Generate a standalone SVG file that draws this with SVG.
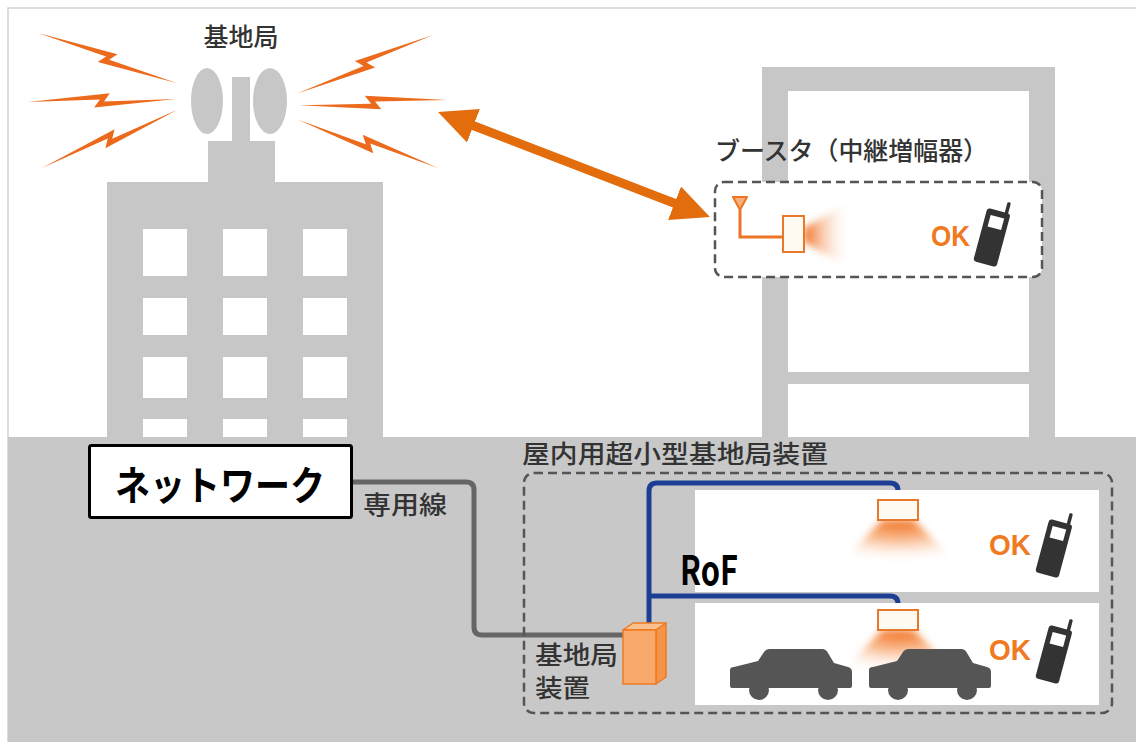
<svg xmlns="http://www.w3.org/2000/svg" xmlns:xlink="http://www.w3.org/1999/xlink" width="1136" height="742" viewBox="0 0 1136 742">
  <style>
    .bldg { fill: #c7c7c7; }
    .win { fill: #ffffff; }
    .label { font-family: "Noto Sans CJK JP", "Noto Sans", sans-serif; font-weight: 500; fill: #333333; font-size: 25px; }
    .ok { font-family: "Liberation Sans", "Noto Sans", sans-serif; font-weight: bold; fill: #f07a22; font-size: 30px; }
    .dash { fill: none; stroke: #555555; stroke-width: 2.5; stroke-dasharray: 9 5; }
    .rof { fill: none; stroke: #1c3f94; stroke-width: 5; stroke-linejoin: round; }
    .emitter { fill: #fffaf2; stroke: #e8782a; stroke-width: 2; }
  </style>
  <defs>
    <!-- zig-zag radio bolt, drawn from its outer tip along +x -->
    <path id="bolt" d="M0,0 L82,-7 L76,1 L148,0 L66,7 L72,-1 Z" fill="#ec6a1c"/>
    <marker id="head" viewBox="0 0 38 36" markerWidth="38" markerHeight="36" refX="18" refY="18" orient="auto-start-reverse" markerUnits="userSpaceOnUse">
      <path d="M0,0 L38,18 L0,36 Z" fill="#e36c0c"/>
    </marker>
    <g id="phone">
      <rect x="6" y="-38" width="3.5" height="13" rx="1.5" fill="#333333"/>
      <rect x="-12" y="-27" width="24" height="55" rx="3" fill="#333333"/>
      <rect x="-7" y="-21" width="14" height="12" fill="#ffffff"/>
    </g>
    <g id="car" fill="#555555">
      <path d="M0,22 Q0,19 4,19 L28,13 L34,4 Q36,1 40,1 L92,1 Q96,1 98,5 L104,15 L118,19 Q122,20 122,24 L122,38 Q122,40 120,40 L2,40 Q0,40 0,38 Z"/>
      <circle cx="29" cy="42" r="10"/>
      <circle cx="98" cy="42" r="10"/>
    </g>
    <radialGradient id="beamDown" cx="0.5" cy="0" r="0.9" fx="0.5" fy="0">
      <stop offset="0" stop-color="#f06a18" stop-opacity="1"/>
      <stop offset="0.45" stop-color="#f58a40" stop-opacity="0.6"/>
      <stop offset="1" stop-color="#ffffff" stop-opacity="0"/>
    </radialGradient>
    <linearGradient id="beamSide" x1="0" y1="0" x2="1" y2="0">
      <stop offset="0" stop-color="#f06a18" stop-opacity="1"/>
      <stop offset="1" stop-color="#ffffff" stop-opacity="0"/>
    </linearGradient>
    <filter id="soft" x="-20%" y="-20%" width="140%" height="140%">
      <feGaussianBlur stdDeviation="3.5"/>
    </filter>
  </defs>

  <!-- page -->
  <rect x="0" y="0" width="1136" height="742" fill="#ffffff"/>
  <path d="M8,742 V8 H1136" fill="none" stroke="#d2d2d2" stroke-width="1.5"/>

  <!-- office building with the macro base station -->
  <g id="office-building">
    <rect class="bldg" x="107" y="182" width="276" height="256"/>
    <rect class="bldg" x="208" y="141" width="67" height="42"/>
    <rect class="bldg" x="232" y="77" width="18" height="65"/>
    <ellipse class="bldg" cx="207" cy="101" rx="16" ry="33"/>
    <ellipse class="bldg" cx="270" cy="101" rx="17" ry="33"/>
    <g class="win">
      <rect x="143" y="229" width="44" height="47"/>
      <rect x="223" y="229" width="44" height="47"/>
      <rect x="303" y="229" width="44" height="47"/>
      <rect x="143" y="298" width="44" height="37"/>
      <rect x="223" y="298" width="44" height="37"/>
      <rect x="303" y="298" width="44" height="37"/>
      <rect x="143" y="357" width="44" height="41"/>
      <rect x="223" y="357" width="44" height="41"/>
      <rect x="303" y="357" width="44" height="41"/>
      <rect x="143" y="419" width="44" height="20"/>
      <rect x="223" y="419" width="44" height="20"/>
      <rect x="303" y="419" width="44" height="20"/>
    </g>
  </g>

  <!-- radio waves -->
  <g id="base-station-waves">
    <use href="#bolt" transform="translate(38,33) rotate(19.8)"/>
    <use href="#bolt" transform="translate(28,102) rotate(-1.2)"/>
    <use href="#bolt" transform="translate(42,168) rotate(-23.3)"/>
    <use href="#bolt" transform="translate(433,35) rotate(156.7) scale(1,-1)"/>
    <use href="#bolt" transform="translate(447,100) rotate(178) scale(1,-1)"/>
    <use href="#bolt" transform="translate(438,168) rotate(199) scale(1,-1)"/>
  </g>
  <g id="base-station-label">
    <text class="label" x="241" y="46" text-anchor="middle" font-size="24">基地局</text>
  </g>

  <!-- neighbouring building -->
  <g id="tower-building">
    <rect class="bldg" x="762" y="67" width="293" height="371"/>
    <rect class="win" x="788" y="91" width="241" height="281"/>
    <rect class="win" x="788" y="384" width="241" height="54"/>
  </g>

  <!-- ground -->
  <rect x="8" y="437" width="1128" height="305" fill="#c8c8c8"/>

  <!-- connectors -->
  <g id="connectors">
    <path d="M456.7,119.2 L691.3,209.8" stroke="#e36c0c" stroke-width="9" marker-start="url(#head)" marker-end="url(#head)"/>
    <path d="M352,482 H466 Q474,482 474,490 V627 Q474,635 482,635 H624" fill="none" stroke="#666666" stroke-width="5"/>
    <path class="rof" d="M649,624 V491 Q649,483 657,483 H890 Q898,483 898,491 V501"/>
    <path class="rof" d="M649,596 H890 Q898,596 898,604 V611"/>
  </g>
  <text class="label" x="363" y="514" textLength="84" lengthAdjust="spacingAndGlyphs">専用線</text>

  <!-- booster (repeater) -->
  <g id="booster">
    <text class="label" x="715" y="160" textLength="273" lengthAdjust="spacingAndGlyphs">ブースタ（中継増幅器）</text>
    <rect x="715" y="182" width="327" height="95" rx="9" fill="#ffffff"/>
    <rect class="dash" x="715" y="182" width="327" height="95" rx="9"/>
    <path d="M804,228 L804,242 L850,268 L850,202 Z" fill="url(#beamSide)" filter="url(#soft)"/>
    <path d="M733,197 H747 L740,210 Z" fill="#f8b07a" stroke="#ec7424" stroke-width="2" stroke-linejoin="round"/>
    <path d="M740,210 V237 H783" fill="none" stroke="#ec7424" stroke-width="3"/>
    <rect class="emitter" x="783" y="216" width="21" height="36"/>
    <text class="ok" x="931" y="246" textLength="39" lengthAdjust="spacingAndGlyphs">OK</text>
    <use href="#phone" transform="translate(992,237) rotate(15)"/>
  </g>

  <!-- network -->
  <g id="network">
    <rect x="89.5" y="445.5" width="262" height="72" rx="2" fill="#ffffff" stroke="#000000" stroke-width="3"/>
    <text x="115" y="500" font-family="Noto Sans CJK JP, Noto Sans, sans-serif" font-weight="bold" font-size="40" fill="#000000" textLength="210" lengthAdjust="spacingAndGlyphs">ネットワーク</text>
  </g>

  <!-- indoor small-cell system -->
  <g id="indoor-system">
    <text class="label" x="522" y="463" textLength="306" lengthAdjust="spacingAndGlyphs">屋内用超小型基地局装置</text>
    <rect class="win" x="695" y="490" width="404" height="102"/>
    <rect class="win" x="695" y="603" width="404" height="102"/>
    <rect class="dash" x="524" y="473" width="588" height="240" rx="10"/>
  </g>

  <g id="indoor-floor-upper">
    <path d="M882,520 L914,520 L962,568 L836,568 Z" fill="url(#beamDown)" filter="url(#soft)"/>
    <rect class="emitter" x="878" y="500" width="40" height="20"/>
    <text class="ok" x="989" y="555" textLength="42" lengthAdjust="spacingAndGlyphs">OK</text>
    <use href="#phone" transform="translate(1054,548) rotate(15)"/>
  </g>

  <g id="indoor-floor-lower">
    <path d="M882,630 L914,630 L962,678 L836,678 Z" fill="url(#beamDown)" filter="url(#soft)"/>
    <rect class="emitter" x="878" y="610" width="40" height="20"/>
    <use href="#car" transform="translate(730,648)"/>
    <use href="#car" transform="translate(869,648)"/>
    <text class="ok" x="989" y="660" textLength="42" lengthAdjust="spacingAndGlyphs">OK</text>
    <use href="#phone" transform="translate(1054,654) rotate(15)"/>
  </g>

  <g id="rof-label">
    <text x="680" y="585" font-family="Noto Sans CJK JP, Noto Sans, sans-serif" font-weight="bold" font-size="40" fill="#000000" textLength="58" lengthAdjust="spacingAndGlyphs">RoF</text>
  </g>

  <!-- base station unit -->
  <g id="base-station-unit">
    <path d="M623,630 L633,623 H666 L656,630 Z" fill="#fbc090" stroke="#ee7a22" stroke-width="1.5" stroke-linejoin="round"/>
    <path d="M656,630 L666,623 V677 L656,684 Z" fill="#f59448" stroke="#ee7a22" stroke-width="1.5" stroke-linejoin="round"/>
    <rect x="623" y="630" width="33" height="54" fill="#f9a96c" stroke="#ee7a22" stroke-width="1.5"/>
    <text class="label" x="535" y="664" textLength="83" lengthAdjust="spacingAndGlyphs">基地局</text>
    <text class="label" x="535" y="697" textLength="55" lengthAdjust="spacingAndGlyphs">装置</text>
  </g>
</svg>
